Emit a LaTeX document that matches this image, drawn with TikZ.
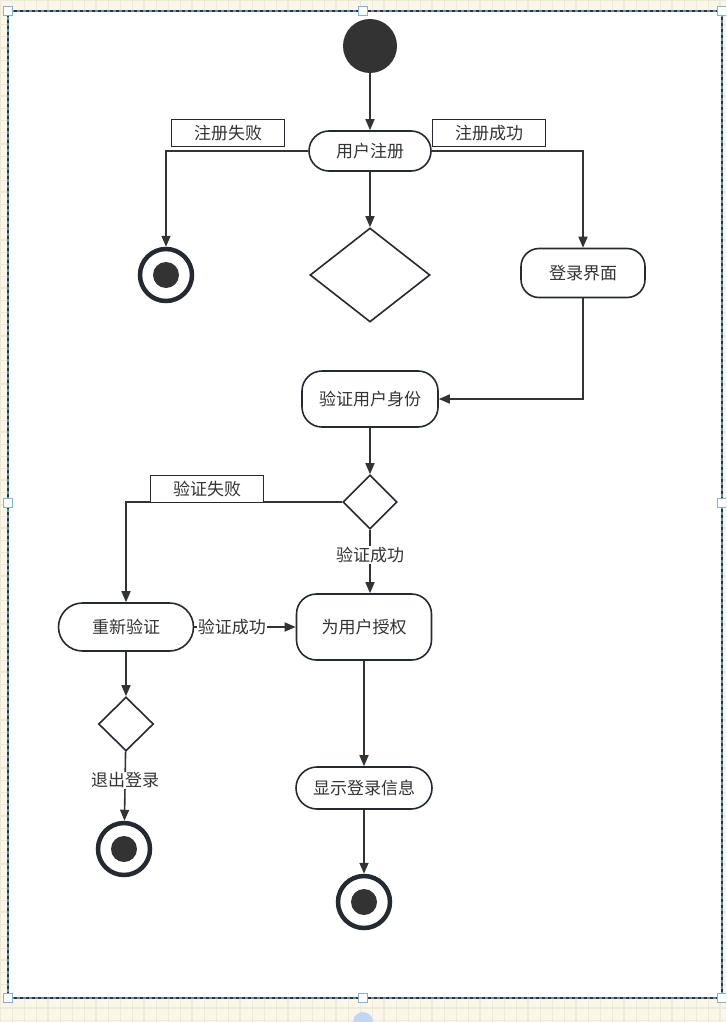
\documentclass[tikz,border=0pt]{standalone}
\usepackage{fontspec}
\setmainfont{Noto Sans CJK SC}
\usetikzlibrary{arrows.meta,shapes.geometric}
\definecolor{ink}{HTML}{333333}
\definecolor{edgec}{HTML}{252A31}
\definecolor{selblue}{HTML}{4A90E2}
\definecolor{handleb}{HTML}{7FB0EA}
\definecolor{paper}{HTML}{FAF7E9}
\definecolor{gridc}{HTML}{EEEAD8}
\begin{document}
\begin{tikzpicture}[x=1pt,y=-1pt,
  txt/.style={text=ink,font=\fontsize{17}{20}\selectfont},
  act/.style={txt,draw=edgec,line width=1.6pt,fill=white,rectangle,inner sep=0pt},
  guard/.style={txt,draw=edgec,line width=1.6pt,fill=white,rectangle,inner sep=0pt,minimum width=113pt,minimum height=27pt},
  lab/.style={txt,fill=white,inner sep=1pt},
  dec/.style={diamond,draw=edgec,line width=1.6pt,fill=white,inner sep=0pt},
  endc/.style={circle,draw=edgec,line width=4.5pt,fill=white,minimum size=52pt,inner sep=0pt},
  conn/.style={draw=ink,line width=1.6pt,-{Triangle[length=11pt,width=9pt]}},
  handle/.style={rectangle,draw=handleb,line width=1pt,fill=white,minimum size=9pt,inner sep=0pt}]
\useasboundingbox (0,0) rectangle (726,1022);
\clip (0,0) rectangle (726,1022);
% background grid
\fill[paper] (0,0) rectangle (726,1022);
\foreach \i in {0,12,...,730} \draw[gridc,line width=0.6pt] (\i,0) -- (\i,1022);
\foreach \j in {0,12,...,1030} \draw[gridc,line width=0.6pt] (0,\j) -- (726,\j);
\foreach \i in {0,48,...,730} \draw[gridc,line width=1.2pt] (\i,0) -- (\i,1022);
\foreach \j in {0,48,...,1030} \draw[gridc,line width=1.2pt] (0,\j) -- (726,\j);
% frame
\fill[white] (8,11) rectangle (722,998);
\draw[ink,line width=1.5pt] (8,11) rectangle (722,998);
\draw[selblue,line width=1.2pt,dashed] (8,11) rectangle (722,998);

% nodes
\node[circle,fill=ink,minimum size=54pt,inner sep=0pt] (start) at (370,46) {};
\node[act,minimum width=122pt,minimum height=40pt,rounded corners=20pt] (reg) at (370,151) {用户注册};
\node[guard] (gfail) at (228,133) {注册失败};
\node[guard] (gok) at (489,133) {注册成功};
\node[endc] (end1) at (166,275) {};
\fill[ink] (end1.center) circle (13);
\node[dec,minimum width=120pt,minimum height=94pt] (dia1) at (370,275) {};
\node[act,minimum width=124pt,minimum height=49pt,rounded corners=18pt] (login) at (583,273) {登录界面};
\node[act,minimum width=136pt,minimum height=56pt,rounded corners=20pt] (verify) at (370,399) {验证用户身份};
\node[dec,minimum width=54pt,minimum height=54pt] (dia2) at (370,502) {};
\node[guard] (gvfail) at (207,489) {验证失败};
\node[act,minimum width=135pt,minimum height=48pt,rounded corners=24pt] (retry) at (126,627) {重新验证};
\node[act,minimum width=135pt,minimum height=66pt,rounded corners=20pt] (auth) at (364,627) {为用户授权};
\node[dec,minimum width=55pt,minimum height=54pt] (dia3) at (126,724) {};
\node[endc] (end3) at (124,849) {};
\fill[ink] (end3.center) circle (13);
\node[act,minimum width=136pt,minimum height=42pt,rounded corners=21pt] (show) at (364,788) {显示登录信息};
\node[endc] (end2) at (364,902) {};
\fill[ink] (end2.center) circle (13);

% connectors
\draw[conn] (start) -- (reg);
\draw[conn] (reg.west) -| (end1);
\draw[conn] (reg.east) -| (login);
\draw[conn] (reg) -- (dia1);
\draw[conn] (login) |- (verify);
\draw[conn] (verify) -- (dia2);
\draw[conn] (dia2.west) -| (retry);
\draw[conn] (dia2.south) -- node[lab,pos=0.4]{验证成功} (dia2.south |- auth.north);
\draw[conn] (retry) -- node[lab,pos=0.37]{验证成功} (auth);
\draw[conn] (retry) -- (dia3);
\draw[conn] (dia3) -- node[lab,pos=0.42]{退出登录} (end3);
\draw[conn] (auth) -- (show);
\draw[conn] (show) -- (end2);

% redraw guard boxes on top of lines
\node[guard] at (gfail) {注册失败};
\node[guard] at (gok) {注册成功};
\node[guard] at (gvfail) {验证失败};

% selection handles
\foreach \p in {(8,11),(363,11),(722,11),(8,503),(722,503),(8,998),(363,998),(722,998)}
  \node[handle] at \p {};
\fill[handleb!50] (363,1022) circle (10);
\end{tikzpicture}
\end{document}
